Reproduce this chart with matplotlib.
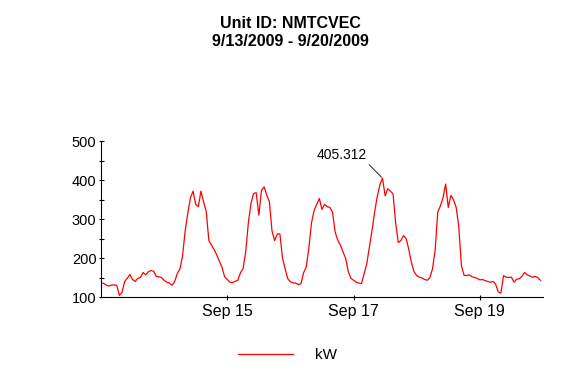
import matplotlib
matplotlib.use('Agg')
import matplotlib.pyplot as plt
import matplotlib.dates as mdates
from matplotlib.ticker import MultipleLocator
import pandas as pd

plt.rcParams['font.family'] = ['Liberation Sans', 'DejaVu Sans']

# hourly kW readings, one list per day
kw_sep13 = [136, 135, 131, 128, 131, 131, 130, 104, 112, 140, 148, 158,
            145, 140, 148, 150, 163, 157, 165, 168, 166, 153, 152, 150]
kw_sep14 = [143, 138, 136, 130, 140, 160, 172, 205, 270, 315, 355, 372,
            338, 332, 372, 344, 320, 245, 233, 222, 208, 192, 176, 152]
kw_sep15 = [145, 138, 137, 140, 143, 162, 173, 215, 290, 340, 366, 368,
            310, 374, 383, 362, 345, 270, 245, 262, 262, 200, 172, 147]
kw_sep16 = [139, 136, 136, 132, 134, 162, 177, 225, 290, 322, 338, 353,
            325, 338, 332, 330, 318, 267, 246, 233, 216, 199, 165, 148]
kw_sep17 = [143, 138, 136, 134, 160, 185, 228, 270, 318, 358, 388, 405.312,
            360, 378, 372, 365, 290, 240, 245, 258, 250, 222, 188, 165]
kw_sep18 = [155, 151, 149, 145, 143, 150, 172, 220, 318, 334, 355, 390,
            330, 361, 350, 330, 280, 180, 156, 155, 157, 152, 150, 148]
kw_sep19 = [144, 145, 142, 140, 138, 140, 133, 113, 110, 155, 151, 150,
            151, 138, 146, 147, 153, 163, 157, 154, 151, 153, 150, 143]

unit_id = 'NMTCVEC'
start_date = '2009-09-13'
end_date = '2009-09-20'
tick_days = ['2009-09-15', '2009-09-17', '2009-09-19']

kw = kw_sep13 + kw_sep14 + kw_sep15 + kw_sep16 + kw_sep17 + kw_sep18 + kw_sep19
times = pd.date_range(start_date, periods=len(kw), freq='h')

fig = plt.figure(figsize=(5.8, 3.8), dpi=100)
ax = fig.add_axes([0.1741, 0.2184, 0.7621, 0.4098])

line, = ax.plot(times, kw, color='#ff0000', lw=0.9, label='kW')

ax.set_xlim(pd.Timestamp(start_date), pd.Timestamp(end_date))
ax.set_ylim(100, 500)

# 坐标轴样式
for side in ['top', 'right']:
    ax.spines[side].set_visible(False)
for side in ['left', 'bottom']:
    ax.spines[side].set_linewidth(0.8)

ax.set_xticks([pd.Timestamp(d) for d in tick_days])
ax.xaxis.set_major_formatter(mdates.DateFormatter('%b %d'))
ax.yaxis.set_major_locator(MultipleLocator(100))
ax.yaxis.set_minor_locator(MultipleLocator(50))
ax.tick_params(axis='both', which='both', direction='inout', length=3.6,
               width=0.8, labelsize=10.5)
ax.tick_params(axis='y', pad=1.5)
ax.tick_params(axis='x', pad=3, labelsize=11.5)

# 标注最大值
imax = max(range(len(kw)), key=lambda i: kw[i])
ax.annotate(f'{kw[imax]:.3f}', xy=(times[imax], kw[imax]),
            xytext=(-29.7, 16.7), textcoords='offset points',
            ha='center', va='center', fontsize=10,
            arrowprops=dict(arrowstyle='-', color='black', lw=0.6,
                            relpos=(1.0, 0.0), shrinkA=0, shrinkB=1))

fig.text(0.5, 1 - 23 / 380, f'Unit ID: {unit_id}', ha='center', va='center',
         fontsize=11.5, fontweight='bold')
fig.text(0.5, 1 - 42 / 380, '9/13/2009 - 9/20/2009', ha='center', va='center',
         fontsize=11.5, fontweight='bold')

fig.legend(handles=[line], loc='center', bbox_to_anchor=(0.496, 1 - 355 / 380),
           frameon=False, fontsize=11, handlelength=3.6, handletextpad=1.4)

fig.savefig('out.png', dpi=100)
